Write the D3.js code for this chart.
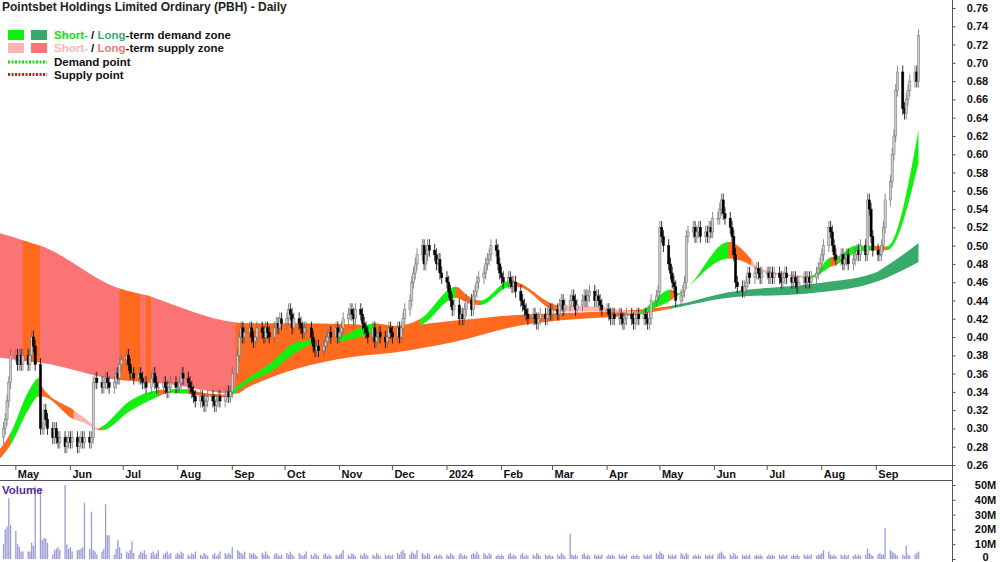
<!DOCTYPE html>
<html>
<head>
<style>
  body { margin: 0; background: #fff; }
  svg { font-family: "Liberation Sans", Arial, sans-serif; display: block; }
</style>
</head>
<body>
<script src="https://d3js.org/d3.v7.min.js"></script>
<div id="chart"></div>
<script>
// daily closes per month (open taken as the previous close)
var closes = {
  "2023-04": [0.29,0.29,0.30,0.31,0.33,0.35,0.38],
  "2023-05": [0.38,0.37,0.38,0.37,0.38,0.37,0.38,0.40,0.39,0.37,0.30,0.30,0.32,0.31,0.30,0.29,0.30,0.29,0.285,0.29,0.28,0.285,0.29],
  "2023-06": [0.285,0.29,0.28,0.285,0.29,0.285,0.29,0.285,0.29,0.35,0.355,0.35,0.345,0.35,0.355,0.35,0.345,0.35,0.36,0.355,0.37,0.375],
  "2023-07": [0.38,0.37,0.36,0.36,0.355,0.36,0.355,0.35,0.35,0.345,0.355,0.36,0.35,0.345,0.345,0.35,0.345,0.34,0.345,0.35,0.345],
  "2023-08": [0.345,0.35,0.36,0.355,0.35,0.345,0.34,0.335,0.33,0.335,0.33,0.325,0.33,0.335,0.33,0.325,0.33,0.335,0.33,0.335,0.34,0.335,0.34],
  "2023-09": [0.36,0.38,0.40,0.41,0.40,0.405,0.41,0.40,0.395,0.40,0.41,0.405,0.40,0.41,0.405,0.40,0.41,0.415,0.41,0.42,0.415],
  "2023-10": [0.42,0.43,0.425,0.41,0.42,0.415,0.41,0.405,0.41,0.41,0.40,0.39,0.385,0.39,0.385,0.39,0.395,0.40,0.405,0.40,0.41,0.40],
  "2023-11": [0.405,0.41,0.42,0.425,0.43,0.425,0.42,0.43,0.425,0.415,0.41,0.405,0.40,0.41,0.395,0.40,0.405,0.40,0.395,0.40,0.41,0.405],
  "2023-12": [0.40,0.41,0.40,0.41,0.42,0.43,0.44,0.46,0.47,0.48,0.49,0.50,0.48,0.49,0.50,0.495,0.49,0.48,0.485,0.47,0.465],
  "2024-01": [0.46,0.45,0.44,0.43,0.435,0.42,0.425,0.42,0.43,0.44,0.43,0.445,0.45,0.46,0.465,0.47,0.48,0.485,0.49,0.50,0.495,0.48,0.47],
  "2024-02": [0.465,0.46,0.465,0.46,0.455,0.46,0.45,0.44,0.435,0.43,0.425,0.42,0.425,0.42,0.415,0.42,0.425,0.42,0.425,0.43,0.425],
  "2024-03": [0.43,0.425,0.435,0.44,0.43,0.435,0.44,0.445,0.44,0.43,0.435,0.44,0.445,0.44,0.445,0.45,0.44,0.445,0.44,0.435,0.43],
  "2024-04": [0.43,0.425,0.42,0.425,0.42,0.425,0.42,0.415,0.42,0.425,0.42,0.415,0.42,0.425,0.42,0.425,0.42,0.415,0.42,0.44,0.445,0.45],
  "2024-05": [0.52,0.51,0.50,0.48,0.47,0.46,0.455,0.44,0.445,0.45,0.46,0.51,0.515,0.52,0.51,0.515,0.52,0.51,0.515,0.51,0.52,0.515,0.53],
  "2024-06": [0.53,0.54,0.55,0.535,0.53,0.52,0.51,0.49,0.46,0.455,0.45,0.455,0.46,0.47,0.465,0.47,0.475,0.47,0.465,0.47],
  "2024-07": [0.47,0.465,0.47,0.465,0.47,0.465,0.46,0.465,0.47,0.465,0.46,0.465,0.46,0.455,0.46,0.465,0.46,0.465,0.46,0.465,0.47,0.475,0.48],
  "2024-08": [0.49,0.50,0.52,0.515,0.50,0.49,0.485,0.49,0.48,0.485,0.49,0.48,0.485,0.49,0.495,0.49,0.50,0.49,0.55,0.54,0.51,0.495],
  "2024-09": [0.49,0.49,0.50,0.52,0.55,0.57,0.60,0.62,0.67,0.69,0.65,0.645,0.66,0.67,0.68,0.69,0.68,0.73]
};
// daily volume, millions
var volumes = {
  "2023-04": [6,13,10,20,22,41,23],
  "2023-05": [19,10,8,5,5,5,5,11,9,49,48,13,14,14,11,3,6,7,8,6,50,10,7],
  "2023-06": [8,5,6,6,7,8,38,7,32,6,5,3,5,7,37,16,16,3,7,13,8,4],
  "2023-07": [5,4,6,12,4,3,5,4,6,3,4,5,3,4,6,3,4,5,3,4,3],
  "2023-08": [4,3,5,4,3,2,4,3,5,3,2,4,3,2,3,4,2,3,5,4,3,4,3],
  "2023-09": [8,6,5,4,3,5,4,3,4,3,2,4,3,5,3,2,3,4,3,2,3],
  "2023-10": [4,3,5,3,2,4,3,2,3,5,3,2,4,3,2,3,4,2,3,2,3,2],
  "2023-11": [3,4,6,3,2,4,3,2,3,2,4,3,2,3,2,4,3,2,3,2,3,2],
  "2023-12": [3,4,3,5,6,4,3,5,4,3,6,4,3,2,4,3,2,3,2,3,2],
  "2024-01": [3,2,4,3,2,3,4,2,3,2,3,4,3,5,3,4,3,2,4,3,2,3,2],
  "2024-02": [3,2,3,4,2,3,2,3,4,2,3,2,3,2,4,3,2,3,2,3,2],
  "2024-03": [2,3,2,4,3,2,17,3,2,3,2,3,4,2,3,2,3,2,3,2,3],
  "2024-04": [2,3,2,3,2,3,2,3,2,3,2,3,2,3,2,3,2,3,2,3,4,3],
  "2024-05": [5,4,3,3,2,3,2,3,4,3,2,4,3,2,3,2,3,2,3,2,3,2,3],
  "2024-06": [3,4,5,3,2,3,2,4,3,2,3,2,3,2,3,2,3,2,3,2],
  "2024-07": [2,3,2,3,2,3,2,3,2,3,2,3,2,3,2,3,2,3,2,3,2,3,3],
  "2024-08": [4,6,5,3,2,3,2,3,2,3,2,3,2,3,2,3,2,3,7,4,3,2],
  "2024-09": [3,4,3,3,21,6,5,4,3,2,3,2,9,3,2,3,4,5]
};
// long-term zone: [date, upper, lower, state]
var longZone = [
  ["2023-04-21",0.514,0.378,"supply"],["2023-05-05",0.506,0.374,"weak"],["2023-05-15",0.500,0.372,"supply"],
  ["2023-06-29",0.453,0.353,"weak"],["2023-07-11",0.447,0.351,"supply"],["2023-07-14",0.446,0.350,"weak"],
  ["2023-07-17",0.444,0.350,"supply"],["2023-09-03",0.416,0.338,"weak"],["2023-09-10",0.415,0.345,"weak"],
  ["2023-10-07",0.415,0.365,"weak"],["2023-11-07",0.414,0.378,"weak"],["2023-12-02",0.412,0.383,"weak"],
  ["2024-01-06",0.418,0.395,"weak"],["2024-02-10",0.424,0.412,"weak"],["2024-03-04",0.426,0.418,"weak"],
  ["2024-04-20",0.430,0.425,"weak"],["2024-05-07",0.434,0.431,"demand"],["2024-06-09",0.449,0.443,"demand"],
  ["2024-07-26",0.458,0.448,"demand"],["2024-08-31",0.470,0.460,"demand"],["2024-09-07",0.478,0.465,"demand"],
  ["2024-09-25",0.503,0.482,"demand"]
];
// short-term zone: [date, upper, lower, state]
var shortZone = [
  ["2023-04-21",0.275,0.265,"down"],["2023-04-28",0.295,0.282,"up"],["2023-05-08",0.34,0.32,"up"],
  ["2023-05-14",0.355,0.335,"down"],["2023-05-16",0.345,0.335,"down"],["2023-06-03",0.32,0.31,"weak"],
  ["2023-06-10",0.31,0.305,"weak"],["2023-06-17",0.30,0.298,"down"],["2023-06-19",0.302,0.298,"up"],
  ["2023-07-04",0.329,0.318,"up"],["2023-07-21",0.342,0.335,"down"],["2023-07-27",0.343,0.339,"up"],
  ["2023-08-07",0.343,0.338,"down"],["2023-08-13",0.340,0.336,"down"],["2023-08-30",0.337,0.334,"up"],
  ["2023-09-03",0.345,0.34,"up"],["2023-09-10",0.355,0.35,"up"],["2023-09-23",0.372,0.362,"up"],
  ["2023-10-07",0.394,0.383,"up"],["2023-10-18",0.397,0.393,"down"],["2023-10-31",0.40,0.395,"up"],
  ["2023-11-07",0.405,0.397,"up"],["2023-11-21",0.415,0.405,"down"],["2023-12-02",0.412,0.408,"down"],
  ["2023-12-17",0.42,0.413,"up"],["2024-01-06",0.455,0.443,"down"],["2024-01-13",0.445,0.437,"down"],
  ["2024-01-20",0.44,0.435,"up"],["2024-02-06",0.462,0.455,"down"],["2024-02-10",0.46,0.455,"down"],
  ["2024-03-04",0.435,0.428,"weak"],["2024-03-28",0.433,0.428,"weak"],["2024-04-20",0.428,0.425,"up"],
  ["2024-04-26",0.437,0.43,"up"],["2024-05-07",0.452,0.44,"down"],["2024-05-11",0.448,0.445,"up"],
  ["2024-06-09",0.504,0.486,"down"],["2024-06-22",0.485,0.478,"weak"],["2024-06-26",0.475,0.472,"weak"],
  ["2024-07-26",0.467,0.465,"up"],["2024-08-06",0.487,0.477,"down"],["2024-08-10",0.488,0.48,"up"],
  ["2024-08-20",0.50,0.492,"up"],["2024-08-31",0.50,0.495,"down"],["2024-09-07",0.499,0.495,"up"],
  ["2024-09-25",0.627,0.591,"up"]
];
var priceTicks = d3.range(0.26, 0.7701, 0.02);
var volTicks = [0, 10, 20, 30, 40, 50];

var zoneColor = {supply: "#fb7474", weak: "#ff6a1f", demand: "#38aa6c",
                 up: "#11f011", down: "#ff6a1f", shortweak: "#ffb4b4"};

var W = 1000, H = 562, plotR = 952;
var parse = d3.timeParse("%Y-%m-%d");
var x = d3.scaleTime().domain([parse("2023-04-22"), parse("2024-10-14")]).range([0, plotR]);
var y = d3.scaleLinear().domain([0.26, 0.76]).range([465, 8]);
var yv = d3.scaleLinear().domain([0, 50]).range([559, 485]);

// build daily rows
var rows = [], prev = null;
Object.keys(closes).forEach(function(m) {
  var start = parse(m + "-01"), end = d3.timeMonth.offset(start, 1);
  var days = d3.timeDay.range(start, end).filter(function(d) { return d.getDay() > 0 && d.getDay() < 6; });
  if (m === "2023-04") days = days.filter(function(d) { return d >= parse("2023-04-20"); });
  closes[m].forEach(function(c, i) {
    if (i >= days.length) return;
    var o = prev === null ? c - 0.005 : prev;
    rows.push({date: days[i], open: o, close: c,
               high: Math.max(o, c) + 0.007, low: Math.min(o, c) - 0.007,
               vol: volumes[m][i] || 0});
    prev = c;
  });
});

var svg = d3.select("#chart").append("svg").attr("width", W).attr("height", H);
var defs = svg.append("defs");

function drawZone(data, shortBand) {
  var pts = data.map(function(d) { return {date: parse(d[0]), hi: d[1], lo: d[2], st: d[3]}; });
  var area = d3.area().curve(d3.curveMonotoneX)
    .x(function(d) { return x(d.date); })
    .y0(function(d) { return y(d.lo); })
    .y1(function(d) { return y(d.hi); });
  var pathD = area(pts);
  pts.slice(0, -1).forEach(function(p, i) {
    var id = (shortBand ? "s" : "l") + i;
    var x0 = x(p.date), x1 = x(pts[i + 1].date);
    defs.append("clipPath").attr("id", id).append("rect")
      .attr("x", x0 - 0.3).attr("y", 0).attr("width", x1 - x0 + 0.6).attr("height", 470);
    var col = shortBand && p.st === "weak" ? zoneColor.shortweak : zoneColor[p.st];
    svg.append("path").attr("d", pathD).attr("clip-path", "url(#" + id + ")").attr("fill", col);
  });
}
drawZone(longZone, false);
drawZone(shortZone, true);

// candles
var cw = 2.2;
var cg = svg.append("g");
cg.selectAll("line").data(rows).enter().append("line")
  .attr("x1", function(d) { return x(d.date); }).attr("x2", function(d) { return x(d.date); })
  .attr("y1", function(d) { return y(d.high); }).attr("y2", function(d) { return y(d.low); })
  .attr("stroke", function(d) { return d.close >= d.open ? "#707070" : "#000"; })
  .attr("stroke-width", 0.8);
cg.selectAll("rect").data(rows).enter().append("rect")
  .attr("x", function(d) { return x(d.date) - cw / 2; })
  .attr("y", function(d) { return y(Math.max(d.open, d.close)); })
  .attr("width", cw)
  .attr("height", function(d) { return Math.max(1, Math.abs(y(d.open) - y(d.close))); })
  .attr("fill", function(d) { return d.close >= d.open ? "#cccccc" : "#000"; })
  .attr("stroke", function(d) { return d.close >= d.open ? "#707070" : "#000"; })
  .attr("stroke-width", 0.5);

// volume
svg.append("g").selectAll("line").data(rows).enter().append("line")
  .attr("x1", function(d) { return x(d.date); }).attr("x2", function(d) { return x(d.date); })
  .attr("y1", yv(0)).attr("y2", function(d) { return yv(Math.min(d.vol, 52)); })
  .attr("stroke", "#9a9ad8").attr("stroke-width", 1.3);

// frame lines
svg.append("line").attr("x1", 0).attr("x2", plotR).attr("y1", 465.5).attr("y2", 465.5).attr("stroke", "#555");
svg.append("line").attr("x1", 0).attr("x2", plotR).attr("y1", 480.5).attr("y2", 480.5).attr("stroke", "#555");
svg.append("line").attr("x1", plotR + 0.5).attr("x2", plotR + 0.5).attr("y1", 0).attr("y2", H).attr("stroke", "#555");

// price axis
var ay = svg.append("g").attr("transform", "translate(" + (plotR + 0.5) + ",0)")
  .call(d3.axisRight(y).tickValues(priceTicks).tickFormat(d3.format(".2f")).tickSize(3));
ay.select(".domain").remove();
ay.selectAll("text").attr("x", 25).attr("text-anchor", "middle").attr("font-size", 11).attr("font-weight", "bold").attr("fill", "#111");
ay.selectAll("line").attr("stroke", "#555");

var av = svg.append("g").attr("transform", "translate(" + (plotR + 0.5) + ",0)")
  .call(d3.axisRight(yv).tickValues(volTicks).tickFormat(function(d) { return d === 0 ? "0" : d + "M"; }).tickSize(3));
av.select(".domain").remove();
av.selectAll("text").attr("x", 33).attr("text-anchor", "middle").attr("font-size", 11).attr("font-weight", "bold").attr("fill", "#111");
av.selectAll("text").filter(function(d) { return d === 0; }).attr("dy", "0.1em");
av.selectAll("line").attr("stroke", "#555");

// time axis
var months = d3.timeMonth.range(parse("2023-05-01"), parse("2024-10-01"));
var tg = svg.append("g").selectAll("g").data(months).enter().append("g")
  .attr("transform", function(d) { return "translate(" + x(d) + ",0)"; });
tg.append("line").attr("y1", 466).attr("y2", 470).attr("stroke", "#555");
tg.append("text").attr("x", 2).attr("y", 478).attr("font-size", 11).attr("font-weight", "bold").attr("fill", "#111")
  .text(function(d) { return d.getMonth() === 0 ? d.getFullYear() : d3.timeFormat("%b")(d); });

// title and legend
svg.append("text").attr("x", 2).attr("y", 11).attr("font-size", 12).attr("font-weight", "bold").attr("fill", "#222")
  .text("Pointsbet Holdings Limited Ordinary (PBH) - Daily");
var lg = svg.append("g").attr("font-size", 11.5).attr("font-weight", "bold");
lg.append("rect").attr("x", 8).attr("y", 30).attr("width", 16).attr("height", 10).attr("fill", "#11f011");
lg.append("rect").attr("x", 31).attr("y", 30).attr("width", 16).attr("height", 10).attr("fill", "#38aa6c");
lg.append("rect").attr("x", 8).attr("y", 43).attr("width", 16).attr("height", 10).attr("fill", "#ffb4b4");
lg.append("rect").attr("x", 31).attr("y", 43).attr("width", 16).attr("height", 10).attr("fill", "#fb7474");
var t1 = lg.append("text").attr("x", 54).attr("y", 39);
t1.append("tspan").attr("fill", "#11e011").text("Short-");
t1.append("tspan").attr("fill", "#111").text(" / ");
t1.append("tspan").attr("fill", "#38aa6c").text("Long");
t1.append("tspan").attr("fill", "#111").text("-term demand zone");
var t2 = lg.append("text").attr("x", 54).attr("y", 52);
t2.append("tspan").attr("fill", "#ffb4b4").text("Short-");
t2.append("tspan").attr("fill", "#111").text(" / ");
t2.append("tspan").attr("fill", "#fb7474").text("Long");
t2.append("tspan").attr("fill", "#111").text("-term supply zone");
lg.append("line").attr("x1", 8).attr("x2", 47).attr("y1", 62).attr("y2", 62).attr("stroke", "#11dd11").attr("stroke-width", 3).attr("stroke-dasharray", "2,1.5");
lg.append("line").attr("x1", 8).attr("x2", 47).attr("y1", 74.5).attr("y2", 74.5).attr("stroke", "#ee1111").attr("stroke-width", 3).attr("stroke-dasharray", "2,1.5");
lg.append("text").attr("x", 54).attr("y", 66).attr("fill", "#111").text("Demand point");
lg.append("text").attr("x", 54).attr("y", 79).attr("fill", "#111").text("Supply point");
svg.append("text").attr("x", 2).attr("y", 494).attr("font-size", 11.5).attr("font-weight", "bold").attr("fill", "#5a2d8c").text("Volume");
</script>
</body>
</html>
